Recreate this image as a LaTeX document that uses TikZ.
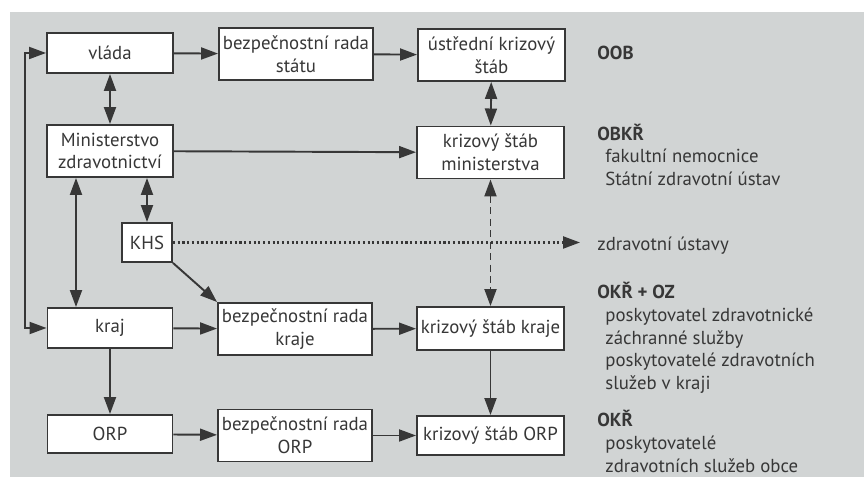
\documentclass[tikz,border=0pt]{standalone}
\usepackage{fontspec}
\setmainfont{PT Sans}
\usetikzlibrary{arrows.meta, positioning}
\definecolor{panel}{RGB}{209,212,212}
\definecolor{ink}{RGB}{55,55,55}

\begin{document}
\begin{tikzpicture}[
  font=\fontsize{10.7}{12.9}\selectfont,
  box/.style={draw=ink, fill=white, line width=1.1pt, text=ink, align=center, minimum height=0.8cm, inner sep=1pt},
  twoline/.style={box, minimum height=1.04cm},
  tip/.tip={Triangle[length=0.34cm, width=0.24cm]},
  link/.style={draw=ink, line width=1.1pt, -tip},
  both/.style={link, tip-tip},
  note/.style={text=ink, anchor=north west, align=left, inner sep=0pt}
]
  \useasboundingbox (0,0) rectangle (17.28,9.54);
  \fill[panel] (0.2,0) rectangle (17.28,9.30);

  % state level
  \node[box, minimum width=2.52cm] (vlada) at (2.2,8.48) {vláda};
  \node[twoline, minimum width=3.08cm] (bezpstat) at (5.92,8.46) {bezpečnostní rada\\státu};
  \node[twoline, minimum width=2.94cm] (ustredni) at (9.83,8.44) {ústřední krizový\\štáb};
  \node[twoline, minimum width=2.52cm] (mz) at (2.2,6.52) {Ministerstvo\\zdravotnictví};
  \node[twoline, minimum width=2.94cm] (ksmin) at (9.81,6.49) {krizový štáb\\ministerstva};
  \node[box, minimum width=1.0cm, minimum height=0.78cm] (khs) at (2.94,4.69) {KHS};

  % region level
  \node[box, minimum width=2.5cm] (kraj) at (2.2,2.98) {kraj};
  \node[twoline, minimum width=3.08cm] (bezpkraj) at (5.9,2.96) {bezpečnostní rada\\kraje};
  \node[box, minimum width=2.94cm, minimum height=0.86cm] (kskraj) at (9.81,2.97) {krizový štáb kraje};

  % ORP level
  \node[box, minimum width=2.5cm, minimum height=0.76cm] (orp) at (2.2,0.86) {ORP};
  \node[twoline, minimum width=3.08cm] (bezporp) at (5.9,0.83) {bezpečnostní rada\\ORP};
  \node[box, minimum width=2.94cm, minimum height=0.78cm] (ksorp) at (9.81,0.83) {krizový štáb ORP};

  % notes on the right
  \node[note] (oob) at (11.94,8.62) {\textbf{OOB}};
  \node[note] (obkr) at (11.94,7.07) {\textbf{OBKŘ}\\\hspace{0.16cm}fakultní nemocnice\\\hspace{0.16cm}Státní zdravotní ústav};
  \node[note, anchor=west] (zu) at (11.94,4.62) {zdravotní ústavy};
  \node[note] (okroz) at (11.94,3.90) {\textbf{OKŘ + OZ}\\\hspace{0.16cm}poskytovatel zdravotnické\\\hspace{0.16cm}záchranné služby\\\hspace{0.16cm}poskytovatelé zdravotních\\\hspace{0.16cm}služeb v kraji};
  \node[note] (okr) at (11.94,1.34) {\textbf{OKŘ}\\\hspace{0.16cm}poskytovatelé\\\hspace{0.16cm}zdravotních služeb obce};

  \draw[link] (vlada) -- (bezpstat);
  \draw[link] (bezpstat) -- (ustredni);
  \draw[both] (vlada) -- (mz);
  \draw[link] (mz) -- (ksmin);
  \draw[both] (ustredni) -- (ksmin);
  \draw[both] (khs.north) -- (khs.north |- mz.south);
  \draw[both] ([xshift=-0.68cm]mz.south) -- ([xshift=-0.68cm]kraj.north);
  \coordinate (rail) at (0.5,5);
  \draw[both] (kraj.west) -| (rail) |- (vlada.west);
  \draw[link] (khs.south east) -- (bezpkraj.north west);
  \draw[link, line width=1.3pt, dash pattern=on 1.2pt off 1.5pt] (khs.east) -- ([xshift=-0.34cm]khs.east -| zu.west);
  \draw[both, dash pattern=on 4pt off 2.5pt] (ksmin) -- (kskraj);
  \draw[link] (kraj) -- (bezpkraj);
  \draw[link] (bezpkraj) -- (kskraj);
  \draw[link] (kraj) -- (orp);
  \draw[link] (kskraj) -- (ksorp);
  \draw[link] (orp) -- (bezporp);
  \draw[link] (bezporp) -- (ksorp);
\end{tikzpicture}
\end{document}
